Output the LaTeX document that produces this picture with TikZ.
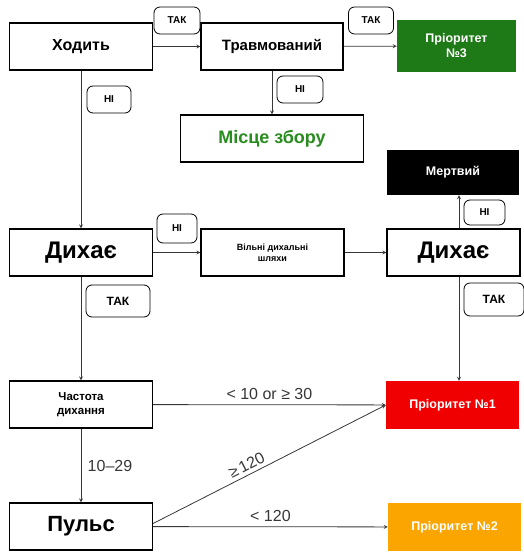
\documentclass[tikz,border=0pt]{standalone}
\usepackage{fontspec}
\setmainfont{Liberation Sans}

\definecolor{prioGreen}{RGB}{30,122,22}
\definecolor{prioRed}{RGB}{240,0,0}
\definecolor{prioOrange}{RGB}{250,165,0}
\definecolor{gatherGreen}{RGB}{40,140,30}
\definecolor{lineGray}{RGB}{55,55,55}

\tikzset{
  box/.style={draw, line width=1.1pt, fill=white, minimum width=143pt, minimum height=47pt, inner sep=2pt, align=center},
  prio/.style={minimum width=133pt, minimum height=48pt, align=center, text=white, font=\bfseries\fontsize{12.5}{15}\selectfont},
  answer/.style={draw, rounded corners=6pt, line width=0.8pt, fill=white, inner sep=1pt, font=\bfseries\fontsize{10}{12}\selectfont},
  flow/.style={->, >=stealth, lineGray, line width=0.8pt},
  cond/.style={text=lineGray, font=\fontsize{16}{18}\selectfont}
}

\begin{document}
\begin{tikzpicture}[x=1pt, y=-1pt]
    \useasboundingbox (0, 0) rectangle (523, 552);
    % top row
    \node[box, font=\bfseries\fontsize{16}{18}\selectfont] (walk) at (81, 46.5) {Ходить};
    \node[box, minimum width=142pt, font=\bfseries\fontsize{15}{17}\selectfont] (injured) at (272, 46.5) {Травмований};
    \node[prio, fill=prioGreen, minimum width=119pt, minimum height=52pt] (p3) at (456.5, 46) {Пріоритет\\№3};
    \node[box, minimum width=183pt, text=gatherGreen, font=\bfseries\fontsize{18}{20}\selectfont] (gather) at (272, 138.5) {Місце збору};
    \node[prio, fill=black, minimum width=132pt, minimum height=45pt] (dead) at (453, 172.5) {Мертвий};
    % breathing row
    \node[box, font=\bfseries\fontsize{24}{26}\selectfont] (breath1) at (81, 252.5) {Дихає};
    \node[box, font=\bfseries\fontsize{9}{11}\selectfont] (airway) at (272.5, 252.5) {Вільні дихальні\\шляхи};
    \node[box, minimum width=133pt, font=\bfseries\fontsize{24}{26}\selectfont] (breath2) at (453.5, 252.5) {Дихає};
    % lower rows
    \node[box, font=\bfseries\fontsize{11.5}{14}\selectfont] (rate) at (81, 404.5) {Частота\\дихання};
    \node[prio, fill=prioRed] (p1) at (452.5, 405) {Пріоритет №1};
    \node[box, font=\bfseries\fontsize{22}{24}\selectfont] (pulse) at (81, 526.5) {Пульс};
    \node[prio, fill=prioOrange] (p2) at (454.5, 527) {Пріоритет №2};
    \coordinate (col) at (459, 0);

    % connectors
    \draw[flow] (walk) -- (injured);
    \draw[flow] (injured) -- (p3);
    \draw[flow] (injured) -- (gather);
    \draw[flow] (walk) -- (breath1);
    \draw[flow] (breath1) -- (airway);
    \draw[flow] (airway) -- (breath2);
    \draw[flow] (breath2.north -| col) -- (dead.south -| col);
    \draw[flow] (breath2.south -| col) -- (p1.north -| col);
    \draw[flow] (breath1) -- (rate);
    \draw[flow] (rate) -- node[cond, above=1pt] {< 10 or ≥ 30} (p1);
    \draw[flow] (rate) -- node[cond, right=3pt] {10–29} (pulse);
    \draw[flow] (pulse) -- node[cond, above=1pt] {< 120} (p2);
    \draw[flow] ([yshift=3pt]pulse.east) -- node[cond, sloped, above, pos=0.42] {≥\,120} (p1.west);

    % answers
    \node[answer, minimum width=46pt, minimum height=27pt] (yes1) at (177, 20.5) {ТАК};
    \node[answer, minimum width=45pt, minimum height=27pt] (yes2) at (371, 20.5) {ТАК};
    \node[answer, minimum width=46pt, minimum height=27pt] (no1) at (300, 89.5) {НІ};
    \node[answer, minimum width=44pt, minimum height=27pt] (no2) at (109, 99.5) {НІ};
    \node[answer, minimum width=41pt, minimum height=25pt] (no3) at (484.5, 212.5) {НІ};
    \node[answer, minimum width=40pt, minimum height=29pt] (no4) at (177, 228.5) {НІ};
    \node[answer, minimum width=64pt, minimum height=32pt, font=\bfseries\fontsize{12}{14}\selectfont] (yes3) at (118, 301) {ТАК};
    \node[answer, minimum width=60pt, minimum height=33pt, font=\bfseries\fontsize{12}{14}\selectfont] (yes4) at (494, 299.5) {ТАК};
\end{tikzpicture}
\end{document}
